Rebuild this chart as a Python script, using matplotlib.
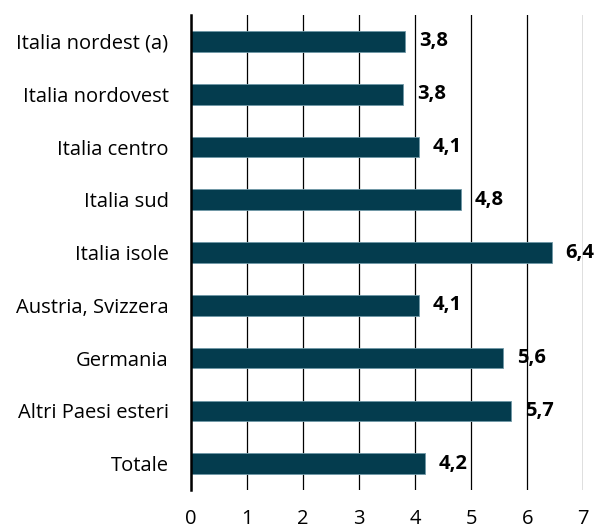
import numpy as np
import matplotlib
matplotlib.use('Agg')
import matplotlib.pyplot as plt

plt.rcParams.update({"font.family": ["Open Sans", "DejaVu Sans"], "font.size": 14.5})

categories = ['Italia nordest (a)', 'Italia nordovest', 'Italia centro', 'Italia sud',
              'Italia isole', 'Austria, Svizzera', 'Germania', 'Altri Paesi esteri', 'Totale']
values = [3.82, 3.79, 4.07, 4.82, 6.44, 4.07, 5.57, 5.71, 4.18]
xticks = [0, 1, 2, 3, 4, 5, 6, 7]

bar_color = '#043c4e'

fig = plt.figure(figsize=(6, 5.3), dpi=100)
ax = fig.add_axes([0.318, 0.0755, 0.654, 0.896])

y = np.arange(len(categories))
ax.barh(y, values, height=0.39, color=bar_color, edgecolor='#6f98a6', linewidth=0.6, zorder=3)
for yi, v in zip(y, values):
    ax.annotate(f'{v:.1f}'.replace('.', ','), (v, yi), xytext=(10, 0), textcoords='offset points',
                va='center', ha='left', fontweight='bold', fontsize=14.5, zorder=4)

ax.set_ylim(len(categories) - 0.5, -0.5)
ax.set_xlim(0, 7)
ax.set_yticks(y)
ax.set_yticklabels(categories)
ax.set_xticks(xticks)
ax.set_xticklabels([str(t) for t in xticks])
ax.tick_params(axis='both', length=0)
ax.tick_params(axis='x', pad=14)
ax.tick_params(axis='y', pad=16)
ax.grid(axis='x', color='black', linewidth=0.9, zorder=0)
for s in ['top', 'right', 'bottom']:
    ax.spines[s].set_visible(False)
ax.spines['left'].set_linewidth(1.8)
ax.spines['left'].set_zorder(5)

fig.savefig('out.png', dpi=100)
